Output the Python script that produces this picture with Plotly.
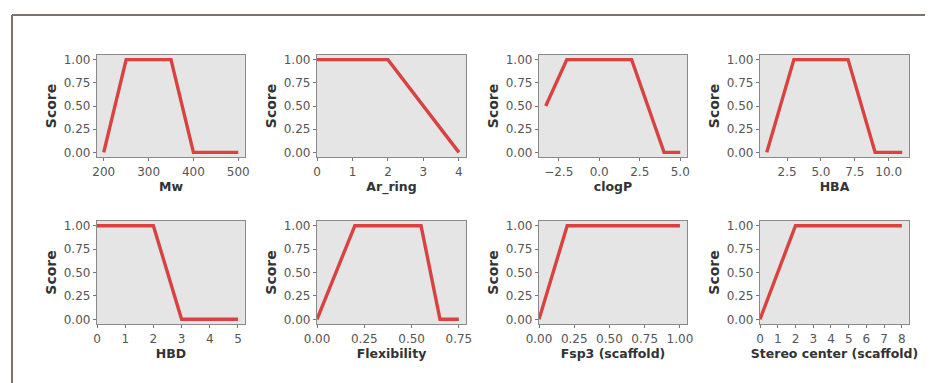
import plotly.graph_objects as go

# ---- data ----
names = ["Mw", "Ar_ring", "clogP", "HBA", "HBD", "Flexibility", "Fsp3 (scaffold)", "Stereo center (scaffold)"]

mw_x = [200, 250, 350, 400, 500]
mw_y = [0, 1, 1, 0, 0]
ar_x = [0, 2, 4]
ar_y = [1, 1, 0]
clogp_x = [-3.3, -2, 2, 4, 5]
clogp_y = [0.5, 1, 1, 0, 0]
hba_x = [1, 3, 7, 9, 11]
hba_y = [0, 1, 1, 0, 0]
hbd_x = [0, 2, 3, 5]
hbd_y = [1, 1, 0, 0]
flex_x = [0, 0.2, 0.55, 0.65, 0.75]
flex_y = [0, 1, 1, 0, 0]
fsp3_x = [0, 0.2, 1.0]
fsp3_y = [0, 1, 1]
stereo_x = [0, 2, 8]
stereo_y = [0, 1, 1]

xs = [mw_x, ar_x, clogp_x, hba_x, hbd_x, flex_x, fsp3_x, stereo_x]
ys = [mw_y, ar_y, clogp_y, hba_y, hbd_y, flex_y, fsp3_y, stereo_y]

x_tickvals = [
    [200, 300, 400, 500],
    [0, 1, 2, 3, 4],
    [-2.5, 0, 2.5, 5],
    [2.5, 5, 7.5, 10],
    [0, 1, 2, 3, 4, 5],
    [0, 0.25, 0.5, 0.75],
    [0, 0.25, 0.5, 0.75, 1.0],
    [0, 1, 2, 3, 4, 5, 6, 7, 8],
]
x_ticktext = [
    ["200", "300", "400", "500"],
    ["0", "1", "2", "3", "4"],
    ["\u22122.5", "0.0", "2.5", "5.0"],
    ["2.5", "5.0", "7.5", "10.0"],
    ["0", "1", "2", "3", "4", "5"],
    ["0.00", "0.25", "0.50", "0.75"],
    ["0.00", "0.25", "0.50", "0.75", "1.00"],
    ["0", "1", "2", "3", "4", "5", "6", "7", "8"],
]
y_tickvals = [0, 0.25, 0.5, 0.75, 1.0]
y_ticktext = ["0.00", "0.25", "0.50", "0.75", "1.00"]
y_label = "Score"

# ---- layout geometry (page body has an 8px margin) ----
OFF = 8
W, H = 933 - OFF, 383 - OFF
col_px = [(97, 245), (317, 466), (539, 687), (760, 909)]
row_px = [(55, 157), (221, 324)]
x_left_zero = [False, True, False, False, True, True, True, True]

fig = go.Figure()
FONT = "DejaVu Sans"
layout = dict(
    width=W, height=H,
    margin=dict(l=0, r=0, t=0, b=0),
    paper_bgcolor="white",
    plot_bgcolor="#e5e5e5",
    showlegend=False,
    font=dict(family=FONT),
)

for i in range(8):
    r, c = divmod(i, 4)
    ax = "" if i == 0 else str(i + 1)
    fig.add_trace(go.Scatter(
        x=xs[i], y=ys[i], mode="lines",
        line=dict(color="#d8433f", width=3.4),
        xaxis="x" + ax, yaxis="y" + ax, hoverinfo="skip",
    ))
    lo, hi = min(xs[i]), max(xs[i])
    span = hi - lo
    xr = [0 if x_left_zero[i] else lo - 0.05 * span, hi + 0.05 * span]
    x0, x1 = col_px[c]
    y0, y1 = row_px[r]
    x0, x1, y0, y1 = x0 - OFF, x1 - OFF, y0 - OFF, y1 - OFF
    layout["xaxis" + ax] = dict(
        domain=[x0 / W, x1 / W], anchor="y" + ax, range=xr,
        tickvals=x_tickvals[i], ticktext=x_ticktext[i],
        ticks="outside", ticklen=3, tickwidth=1, tickcolor="#777",
        showline=True, linecolor="#8a8a8a", linewidth=1.3, mirror=True,
        showgrid=False, zeroline=False, automargin=False,
        tickfont=dict(size=12, color="#555", family=FONT),
        title=dict(text="<b>%s</b>" % names[i], standoff=0,
                   font=dict(size=12.5, color="#333", family=FONT)),
    )
    layout["yaxis" + ax] = dict(
        domain=[1 - y1 / H, 1 - y0 / H], anchor="x" + ax, range=[-0.05, 1.05],
        tickvals=y_tickvals, ticktext=y_ticktext,
        ticks="outside", ticklen=3, tickwidth=1, tickcolor="#777",
        showline=True, linecolor="#8a8a8a", linewidth=1.3, mirror=True,
        showgrid=False, zeroline=False, automargin=False,
        tickfont=dict(size=12, color="#555", family=FONT),
        title=dict(text="<b>%s</b>" % y_label, standoff=3,
                   font=dict(size=14, color="#333", family=FONT)),
    )

fig.update_layout(**layout)

# outer frame (top and left edges)
fig.add_shape(type="line", xref="paper", yref="paper",
              x0=(12 - OFF) / W, x1=1.0, y0=1 - (15 - OFF) / H, y1=1 - (15 - OFF) / H,
              line=dict(color="#7c7468", width=2))
fig.add_shape(type="line", xref="paper", yref="paper",
              x0=(12 - OFF) / W, x1=(12 - OFF) / W, y0=1 - (15 - OFF) / H, y1=0,
              line=dict(color="#7c7468", width=2))

fig.write_html("out.html")
